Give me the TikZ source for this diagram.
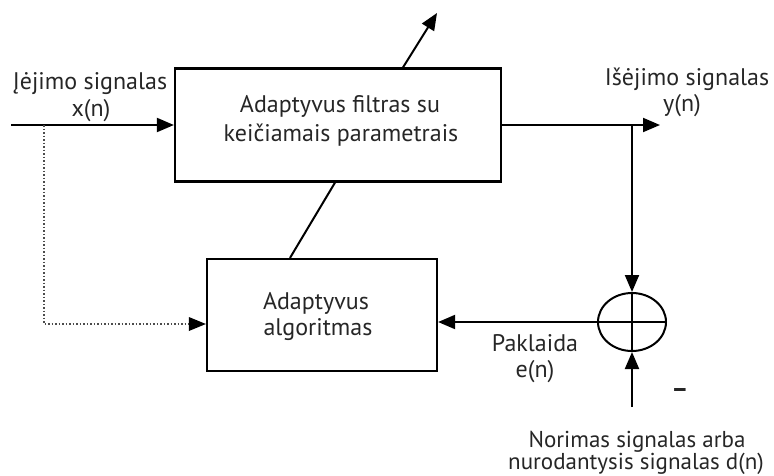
\documentclass[tikz,border=0pt]{standalone}
\usepackage{fontspec}
\setmainfont{PT Sans}
\usetikzlibrary{arrows.meta,shapes.geometric}
\begin{document}
\begin{tikzpicture}[x=1pt,y=-1pt,
  block/.style={draw,line width=2.2pt,inner sep=0pt},
  wire/.style={line width=2pt},
  tip/.style={-{Triangle[length=17pt,width=14pt]}},
  arr/.style={wire,tip},
  lbl/.style={inner sep=0pt,align=center,font=\fontsize{24}{28}\selectfont},
  every node/.style={text=black!85}]
\useasboundingbox (0,0) rectangle (774,475);

% blocks
\node[block,minimum width=326pt,minimum height=113pt] (filt) at (338,125) {};
\node[block,minimum width=230pt,minimum height=112pt] (algo) at (322,315) {};
\node[draw,line width=2pt,ellipse,minimum width=68pt,minimum height=58pt,inner sep=0pt] (sum) at (632,322) {};

% block texts
\node[lbl] (filtA) at (340,106) {Adaptyvus filtras su};
\node[lbl] (filtB) at (341,135) {keičiamais parametrais};
\node[lbl] (algoA) at (316,303) {Adaptyvus};
\node[lbl] (algoB) at (318,330) {algoritmas};

% signal labels
\node[lbl] (inA) at (90,84) {Įėjimo signalas};
\node[lbl] (inB) at (91,111) {x(n)};
\node[lbl] (outA) at (687,79) {Išėjimo signalas};
\node[lbl] (outB) at (682,106) {y(n)};
\node[lbl] (errA) at (535,343) {Paklaida};
\node[lbl] (errB) at (535,372) {e(n)};
\node[lbl,font=\fontsize{23}{28}\selectfont,anchor=base] (desA) at (637,447) {Norimas signalas arba};
\node[lbl,font=\fontsize{23}{28}\selectfont,anchor=base] (desB) at (636,469) {nurodantysis signalas d(n)};
\node[inner sep=0pt,font=\fontsize{26}{26}\selectfont\bfseries] (minus) at (680,393) {–};

% coordinates of free ends and branch points
\coordinate (in) at (11,125);
\coordinate (tap) at (44,125);
\coordinate (tapc) at (44,324);
\coordinate (out) at (660,125);
\coordinate (jn) at (632,125);
\coordinate (dn) at (632,407);
\coordinate (adj) at (437,13);

% connectors
\draw[arr] (in) -- (in -| filt.west);
\draw[wire] (filt.east) -- (jn);
\draw[arr] (jn) -- (out);
\draw[arr] (jn) -- (sum.north);
\draw[arr] (dn) -- (sum.south);
\draw[wire] (sum.west) -- (sum.east);
\draw[wire] (sum.north) -- (sum.south);
\draw[arr] (sum.west) -- (sum.west -| algo.east);
\draw[wire] ([xshift=-32pt]algo.north) -- ([xshift=-3pt]filt.south);
\draw[arr] ([xshift=65pt]filt.north) -- (adj);
\draw[line width=1.5pt,dotted,black!70,-{Triangle[length=17pt,width=14pt,fill=black,line width=0pt]}]
  (tap) -- (tapc) -- (tapc -| algo.west);
\end{tikzpicture}
\end{document}
